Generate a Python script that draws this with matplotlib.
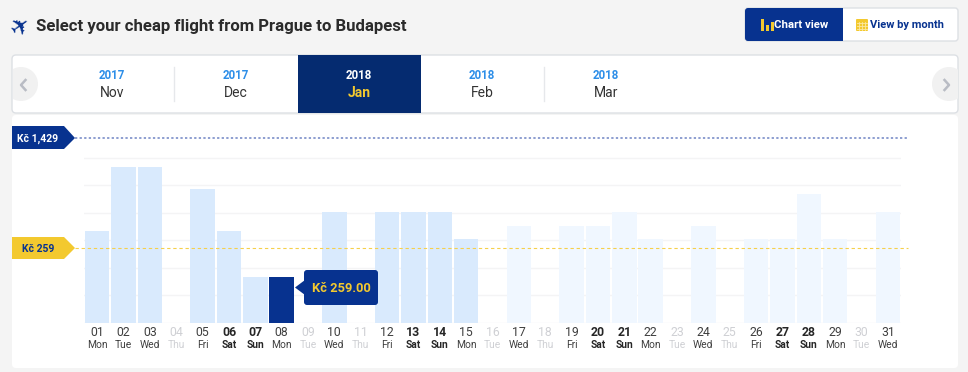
import matplotlib
matplotlib.use('Agg')
import matplotlib.pyplot as plt
from matplotlib.patches import FancyBboxPatch, Polygon, Rectangle
import numpy as np

plt.rcParams['font.family'] = ['Roboto', 'DejaVu Sans']

# Data (prices in Kc, no flight = nan)
days = list(range(1, 32))
weekdays = ['Mon', 'Tue', 'Wed', 'Thu', 'Fri', 'Sat', 'Sun', 'Mon', 'Tue', 'Wed', 'Thu', 'Fri', 'Sat', 'Sun', 'Mon',
            'Tue', 'Wed', 'Thu', 'Fri', 'Sat', 'Sun', 'Mon', 'Tue', 'Wed', 'Thu', 'Fri', 'Sat', 'Sun', 'Mon', 'Tue', 'Wed']
nan = float('nan')
prices = [518, 878, 878, nan, 754, 518, 259, 259, nan, 625, nan, 625, 625, 625, 473,
          nan, 546, nan, 546, 546, 625, 473, nan, 546, nan, 473, 473, 726, 473, nan, 625]
selected_day = 8
faded_from_day = 16
grid_levels = [0, 155, 310, 465, 620, 775, 930]
# the two reference lines do not sit on the bar scale, so these are their drawn heights
line_levels = [1042, 422]
line_labels = ['Kč 1,429', 'Kč 259']
tooltip_label = 'Kč 259.00'
years = ['2017', '2017', '2018', '2018', '2018']
months = ['Nov', 'Dec', 'Jan', 'Feb', 'Mar']

NAVY = '#07328f'
DARK_NAVY = '#052b70'
YELLOW = '#f3c92f'
W, H = 968, 372

fig = plt.figure(figsize=(W / 100, H / 100), dpi=100, facecolor='#f4f4f4')


# Full figure axes in pixel coordinates, y going down
def pixel_axes(zorder):
    a = fig.add_axes([0, 0, 1, 1], zorder=zorder)
    a.set_xlim(0, W)
    a.set_ylim(H, 0)
    a.axis('off')
    return a


def rounded(a, x0, y0, x1, y1, color, edge='none', r=3):
    a.add_patch(FancyBboxPatch((x0 + r, y0 + r), x1 - x0 - 2 * r, y1 - y0 - 2 * r,
                               boxstyle='round,pad=%d,rounding_size=%d' % (r, r),
                               fc=color, ec=edge, lw=1))


bg = pixel_axes(0)
over = pixel_axes(2)

# Title, plane glyph mirrored through its rotation so it points up and right
over.text(21, 27, '\u2708', color=NAVY, fontsize=17, family='DejaVu Sans', rotation=35, ha='center', va='center')
bg.text(36, 26.5, 'Select your cheap flight from Prague to Budapest', color='#2b2b2b', fontsize=12.05,
        fontweight='bold', va='center')

# Toggle buttons
rounded(bg, 745, 8, 958, 41, 'white', '#dde0e4')
rounded(bg, 745, 8, 842, 41, NAVY)
bg.add_patch(Rectangle((835, 8), 7.5, 33, fc=NAVY, ec='none'))
for bx, bh in zip([761, 766, 771], [12, 6, 9]):
    bg.add_patch(Rectangle((bx, 31 - bh), 2.5, bh, fc=YELLOW, ec='none'))
bg.text(774, 24.5, 'Chart view', color='white', fontsize=8.2, fontweight='bold', va='center')
rounded(bg, 856, 19, 868, 31, YELLOW, r=1)
for cy in [23, 26, 28.5]:
    bg.plot([857, 867], [cy, cy], color='#fbe9a6', lw=0.6)
for cx in [859, 862, 865]:
    bg.plot([cx, cx], [22, 30], color='#fbe9a6', lw=0.6)
bg.text(870, 24.5, 'View by month', color=NAVY, fontsize=8.0, fontweight='bold', va='center')

# Month selector
rounded(bg, 12, 55, 958, 113, 'white', '#dde0e4', r=4)
panel_clip = Rectangle((12.5, 56), 945, 56, transform=bg.transData)
for cx in [21, 949]:
    c = plt.Circle((cx, 84), 17, fc='#f1f1f1', ec='none')
    bg.add_patch(c)
    c.set_clip_path(panel_clip)
bg.plot([25.5, 21, 25.5], [80, 85, 90], color='#b9bcc4', lw=1.8)
bg.plot([944.5, 949, 944.5], [80, 85, 90], color='#b9bcc4', lw=1.8)
bg.add_patch(Rectangle((298, 55), 123, 58, fc=DARK_NAVY, ec='none'))
for sx in [174, 544]:
    bg.plot([sx, sx], [67, 101], color='#e6e8eb', lw=1)
for mx, year, month in zip([112, 236, 359, 482, 606], years, months):
    active = month == 'Jan'
    bg.text(mx, 75.5, year, color='white' if active else '#2d8ee8', fontsize=8.3, fontweight='bold',
            ha='center', va='center')
    bg.text(mx, 93, month, color=YELLOW if active else '#333333', fontsize=10,
            fontweight='bold' if active else 'normal', ha='center', va='center')

# Chart panel
rounded(bg, 12, 115, 958, 368, 'white', r=4)

# Chart itself: x scale is one unit per day, y scale is price
x0, x1, y_top, y_bot = 84, 901, 157, 323
ax = fig.add_axes([x0 / W, 1 - y_bot / H, (x1 - x0) / W, (y_bot - y_top) / H], zorder=1)
ax.patch.set_alpha(0)
ax.set_xlim(0.5, 31.5)
ax.set_ylim(0, 934)
for s in ax.spines.values():
    s.set_visible(False)
ax.set_xticks([])
ax.set_yticks([])
for g in grid_levels:
    ax.axhline(g, color='#f4f4f5', lw=1, zorder=1)

colors = []
for d in days:
    if d == selected_day:
        colors.append(NAVY)
    elif d < faded_from_day:
        colors.append('#d9eafd')
    else:
        colors.append('#f0f7ff')
ax.bar(days, prices, width=0.93, color=colors, zorder=2)

# Reference lines run a little past both ends of the axes
ax.plot([0.16, 31.75], [line_levels[0]] * 2, color='#6f84c4', lw=1.1, ls=(0, (1.5, 1.5)), clip_on=False, zorder=3)
ax.plot([0.16, 31.75], [line_levels[1]] * 2, color='#f6d04a', lw=0.8, ls=(0, (3, 2.5)), clip_on=False, zorder=3)

# Day labels under the bars
for d, wd, p in zip(days, weekdays, prices):
    no_flight = np.isnan(p)
    weekend = wd in ('Sat', 'Sun') and not no_flight
    col = '#cfd0d4' if no_flight else '#262626' if weekend else '#3f3f3f'
    weight = 'bold' if weekend else 'normal'
    ax.annotate('%02d' % d, (d, 0), xytext=(0, -10 * 0.72), textcoords='offset points', ha='center', va='center',
                fontsize=8.8, color=col, fontweight=weight, annotation_clip=False)
    ax.annotate(wd, (d, 0), xytext=(0, -22.5 * 0.72), textcoords='offset points', ha='center', va='center',
                fontsize=7.4, color=col, fontweight=weight, annotation_clip=False)

# Price tags
over.add_patch(Polygon([(12, 126), (64, 126), (75, 138), (64, 149), (12, 149)], fc=NAVY, ec='none'))
over.text(17, 138.5, line_labels[0], color='white', fontsize=7.5, fontweight='bold', va='center')
over.add_patch(Polygon([(12, 237), (64, 237), (75, 248), (64, 259), (12, 259)], fc=YELLOW, ec='none'))
over.text(22, 249, line_labels[1], color=NAVY, fontsize=7.5, fontweight='bold', va='center')

# Tooltip for the selected day
rounded(over, 304, 270, 378, 305, NAVY, r=3)
over.add_patch(Polygon([(295, 287.5), (305, 280), (305, 295)], fc=NAVY, ec='none'))
over.text(341, 288, tooltip_label, color=YELLOW, fontsize=9.3, fontweight='bold', ha='center', va='center')

fig.savefig('out.png', dpi=100, facecolor=fig.get_facecolor())
